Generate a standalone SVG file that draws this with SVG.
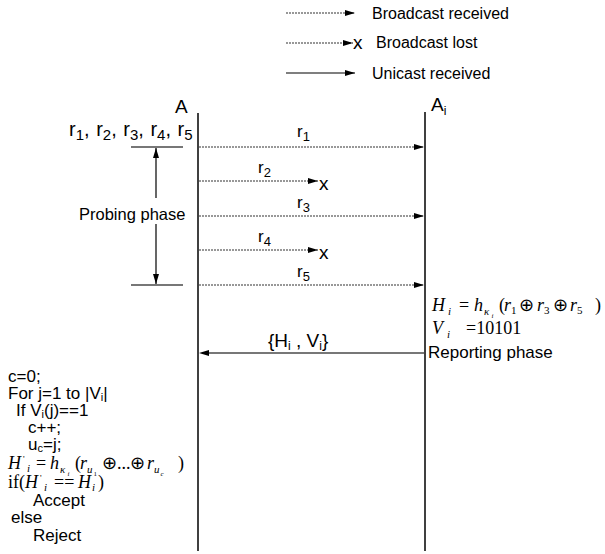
<svg xmlns="http://www.w3.org/2000/svg" width="605" height="554" viewBox="0 0 605 554">
<style>
text{font-family:"Liberation Sans",Arial,sans-serif;fill:#000}
.t16{font-size:16px}
.t17{font-size:17px}
.c{font-size:17px}
.x{font-size:19px}
.m{font-family:"Liberation Serif","Times New Roman",serif;font-size:18px}
.it{font-style:italic}
.life{stroke:#000;stroke-width:1.5;fill:none}
.bc{stroke:#333;stroke-width:1.2;stroke-dasharray:2,1;fill:none}
.uc{stroke:#000;stroke-width:1.2;fill:none}
.gr{stroke:#777;stroke-width:1.8;fill:none}
</style>
<defs>
<marker id="ah" markerWidth="10" markerHeight="6" refX="10" refY="3" orient="auto" markerUnits="userSpaceOnUse">
<path d="M0,0 L10,3 L0,6 Z" fill="#000"/>
</marker>
</defs>

<g id="legend">
<line class="bc" x1="286" y1="13" x2="355" y2="13" marker-end="url(#ah)"/>
<text class="t16" x="372" y="19">Broadcast received</text>
<line class="bc" x1="286" y1="43" x2="353" y2="43" marker-end="url(#ah)"/>
<text class="x" x="353" y="49">x</text>
<text class="t16" x="376" y="48">Broadcast lost</text>
<line class="uc" x1="286" y1="73" x2="355" y2="73" marker-end="url(#ah)"/>
<text class="t16" x="372" y="79">Unicast received</text>
</g>

<g id="node-A">
<text x="175" y="113" style="font-size:19px">A</text>
<line class="life" x1="198" y1="113" x2="198" y2="551"/>
<text x="69" y="136" style="font-size:20px;word-spacing:1px">r<tspan dy="4" font-size="15">1</tspan><tspan dy="-4">, r</tspan><tspan dy="4" font-size="15">2</tspan><tspan dy="-4">, r</tspan><tspan dy="4" font-size="15">3</tspan><tspan dy="-4">, r</tspan><tspan dy="4" font-size="15">4</tspan><tspan dy="-4">, r</tspan><tspan dy="4" font-size="15">5</tspan></text>
</g>

<g id="node-Ai">
<text x="431" y="111" style="font-size:19px">A<tspan dy="4" font-size="12">i</tspan></text>
<line class="life" x1="425" y1="112" x2="425" y2="551"/>
</g>

<g id="probing-phase">
<line class="gr" x1="131" y1="147" x2="183" y2="147"/>
<line class="gr" x1="131" y1="285" x2="183" y2="285"/>
<line class="uc" x1="156" y1="198" x2="156" y2="148" marker-end="url(#ah)"/>
<line class="uc" x1="156" y1="224" x2="156" y2="284" marker-end="url(#ah)"/>
<text x="79" y="220" style="font-size:16.5px">Probing phase</text>
</g>

<g id="connectors">
<line class="bc" x1="199" y1="147" x2="424" y2="147" marker-end="url(#ah)"/>
<line class="bc" x1="199" y1="181" x2="318" y2="181" marker-end="url(#ah)"/>
<line class="bc" x1="199" y1="216" x2="424" y2="216" marker-end="url(#ah)"/>
<line class="bc" x1="199" y1="250" x2="318" y2="250" marker-end="url(#ah)"/>
<line class="bc" x1="199" y1="285" x2="424" y2="285" marker-end="url(#ah)"/>
<line class="gr" x1="424" y1="353" x2="208" y2="353"/>
<path d="M199,353 L209,350 L209,356 Z" fill="#000"/>
</g>

<g id="labels">
<text class="t17" x="297" y="137">r<tspan dy="4" font-size="13">1</tspan></text>
<text class="t17" x="258" y="173">r<tspan dy="4" font-size="13">2</tspan></text>
<text class="x" x="319" y="190">x</text>
<text class="t17" x="297" y="208">r<tspan dy="4" font-size="13">3</tspan></text>
<text class="t17" x="258" y="242">r<tspan dy="4" font-size="13">4</tspan></text>
<text class="x" x="319" y="259">x</text>
<text class="t17" x="297" y="277">r<tspan dy="4" font-size="13">5</tspan></text>
<text x="268" y="347" style="font-size:19px">{H<tspan dy="3" font-size="12">i</tspan><tspan dy="-3"> , V</tspan><tspan dy="3" font-size="12">i</tspan><tspan dy="-3">}</tspan></text>
</g>

<g id="reporting">
<text class="m" y="311"><tspan class="it" x="432">H</tspan><tspan class="it" x="448" y="315" font-size="11">i</tspan><tspan x="459" y="311">=</tspan><tspan class="it" x="474">h</tspan><tspan class="it" x="484" y="315" font-size="11">κ</tspan><tspan class="it" x="491.5" y="318" font-size="7">i</tspan><tspan x="499" y="311">(</tspan><tspan class="it" x="504">r</tspan><tspan x="511" y="314" font-size="11">1</tspan><tspan x="519" y="311">⊕</tspan><tspan class="it" x="537">r</tspan><tspan x="544" y="314" font-size="11">3</tspan><tspan x="553" y="311">⊕</tspan><tspan class="it" x="570">r</tspan><tspan x="577" y="314" font-size="11">5</tspan><tspan x="595" y="311">)</tspan></text>
<text class="m" y="334"><tspan class="it" x="432">V</tspan><tspan class="it" x="447" y="338" font-size="11">i</tspan><tspan x="466" y="334">=10101</tspan></text>
<text x="428" y="358" style="font-size:17px">Reporting phase</text>
</g>

<g id="verification">
<text class="c" x="8" y="382">c=0;</text>
<text class="c" x="8" y="399">For j=1 to |V<tspan font-size="11" dy="2">i</tspan><tspan dy="-2">|</tspan></text>
<text class="c" x="16" y="416">If V<tspan font-size="11" dy="2">i</tspan><tspan dy="-2">(j)==1</tspan></text>
<text class="c" x="28" y="433">c++;</text>
<text class="c" x="28" y="450">u<tspan font-size="11" dy="2">c</tspan><tspan dy="-2">=j;</tspan></text>
<text class="m" y="469"><tspan class="it" x="8">H</tspan><tspan x="23" y="462" font-size="9">'</tspan><tspan class="it" x="27" y="472" font-size="11">i</tspan><tspan x="36" y="469">=</tspan><tspan class="it" x="50">h</tspan><tspan class="it" x="60" y="473" font-size="11">κ</tspan><tspan class="it" x="67.5" y="476" font-size="7">i</tspan><tspan x="75" y="469">(</tspan><tspan class="it" x="80">r</tspan><tspan class="it" x="87" y="473" font-size="11">u</tspan><tspan x="93.5" y="476" font-size="7">1</tspan><tspan x="102" y="469">⊕</tspan><tspan x="117">...</tspan><tspan x="130">⊕</tspan><tspan class="it" x="147">r</tspan><tspan class="it" x="154" y="473" font-size="11">u</tspan><tspan class="it" x="160.5" y="476" font-size="7">c</tspan><tspan x="178" y="469">)</tspan></text>
<text class="m" y="488"><tspan x="8">if</tspan><tspan x="19">(</tspan><tspan class="it" x="25">H</tspan><tspan x="40" y="481" font-size="9">'</tspan><tspan class="it" x="44" y="491" font-size="11">i</tspan><tspan x="54" y="488">==</tspan><tspan class="it" x="78">H</tspan><tspan class="it" x="92" y="491" font-size="11">i</tspan><tspan x="98" y="488">)</tspan></text>
<text class="c" x="33" y="506">Accept</text>
<text class="c" x="11" y="523">else</text>
<text class="c" x="33" y="541">Reject</text>
</g>
</svg>
